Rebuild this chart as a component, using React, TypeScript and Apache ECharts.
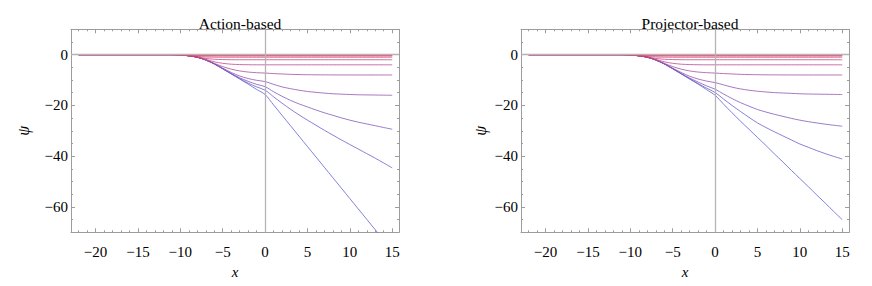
import React, { useEffect, useRef } from "react";
import * as echarts from "echarts";

// ---- data ----
// x positions: -22, then every unit from -11 to 15
const X = [-22, -11, -10, -9, -8, -7, -6, -5, -4, -3, -2, -1, 0,
  1, 2, 3, 4, 5, 6, 7, 8, 9, 10, 11, 12, 13, 14, 15];

// curves shared by both panels
const c1 = [0, 0, -0.07, -0.11, -0.125, -0.125, -0.125, -0.125, -0.125, -0.125, -0.125, -0.125, -0.125,
  -0.125, -0.125, -0.125, -0.125, -0.125, -0.125, -0.125, -0.125, -0.125, -0.125, -0.125, -0.125, -0.125, -0.125, -0.125];
const c2 = [0, 0, -0.09, -0.2, -0.24, -0.25, -0.25, -0.25, -0.25, -0.25, -0.25, -0.25, -0.25,
  -0.25, -0.25, -0.25, -0.25, -0.25, -0.25, -0.25, -0.25, -0.25, -0.25, -0.25, -0.25, -0.25, -0.25, -0.25];
const c3 = [0, 0, -0.1, -0.33, -0.45, -0.49, -0.5, -0.5, -0.5, -0.5, -0.5, -0.5, -0.5,
  -0.5, -0.5, -0.5, -0.5, -0.5, -0.5, -0.5, -0.5, -0.5, -0.5, -0.5, -0.5, -0.5, -0.5, -0.5];
const c4 = [0, 0, -0.1, -0.4, -0.75, -0.92, -0.98, -1, -1, -1, -1, -1, -1,
  -1, -1, -1, -1, -1, -1, -1, -1, -1, -1, -1, -1, -1, -1, -1];
const c5 = [0, 0, -0.1, -0.45, -0.95, -1.5, -1.8, -1.93, -1.98, -2, -2, -2, -2,
  -2, -2, -2, -2, -2, -2, -2, -2, -2, -2, -2, -2, -2, -2, -2];
const c6 = [0, 0, -0.1, -0.45, -1.0, -1.9, -2.8, -3.4, -3.75, -3.9, -3.97, -4, -4,
  -4, -4, -4, -4, -4, -4, -4, -4, -4, -4, -4, -4, -4, -4, -4];
const c7 = [0, 0, -0.1, -0.45, -1.0, -2.05, -3.4, -4.7, -5.7, -6.4, -6.85, -7.1, -7.25,
  -7.45, -7.6, -7.75, -7.85, -7.9, -7.94, -7.96, -7.98, -7.99, -8, -8, -8, -8, -8, -8];

// Action-based panel
const actionC8 = [0, 0, -0.1, -0.45, -1.0, -2.1, -3.6, -5.3, -7.0, -8.4, -9.4, -10.1, -10.6,
  -11.7, -12.7, -13.4, -14.0, -14.5, -14.85, -15.15, -15.4, -15.55, -15.7, -15.8, -15.85, -15.9, -15.95, -16];
const actionC9 = [0, 0, -0.1, -0.45, -1.0, -2.1, -3.6, -5.5, -7.4, -9.1, -10.5, -11.7, -12.6,
  -14.6, -16.4, -18.0, -19.4, -20.6, -21.8, -22.9, -23.9, -24.9, -25.8, -26.6, -27.3, -28.0, -28.7, -29.4];
const actionC10 = [0, 0, -0.1, -0.45, -1.0, -2.1, -3.6, -5.5, -7.5, -9.4, -11.2, -12.7, -14.0,
  -16.6, -19.1, -21.5, -23.7, -25.8, -27.8, -29.8, -31.7, -33.6, -35.4, -37.2, -39.0, -40.8, -42.7, -44.6];
const actionC11 = [0, 0, -0.1, -0.45, -1.0, -2.1, -3.7, -5.6, -7.6, -9.6, -11.6, -13.7, -15.7,
  -19.8, -23.9, -28.0, -32.1, -36.2, -40.3, -44.4, -48.5, -52.6, -56.7, -60.8, -64.9, -69.0, -73.1, -77.2];

// Projector-based panel
const projC8 = [0, 0, -0.1, -0.45, -1.0, -2.1, -3.6, -5.3, -7.0, -8.5, -9.6, -10.4, -11.0,
  -11.9, -12.8, -13.5, -14.0, -14.4, -14.7, -14.95, -15.1, -15.25, -15.4, -15.5, -15.55, -15.6, -15.65, -15.7];
const projC9 = [0, 0, -0.1, -0.45, -1.0, -2.1, -3.6, -5.5, -7.4, -9.2, -10.8, -12.3, -13.6,
  -15.5, -17.3, -18.9, -20.3, -21.6, -22.6, -23.5, -24.3, -25.1, -25.8, -26.4, -26.9, -27.4, -27.8, -28.2];
const projC10 = [0, 0, -0.1, -0.45, -1.0, -2.1, -3.6, -5.5, -7.5, -9.5, -11.4, -13.2, -14.9,
  -17.5, -20.0, -22.4, -24.7, -26.9, -28.7, -30.4, -32.0, -33.6, -35.2, -36.5, -37.8, -39.0, -40.1, -41.1];
const projC11 = [0, 0, -0.1, -0.45, -1.0, -2.1, -3.7, -5.6, -7.6, -9.6, -11.6, -13.8, -16.0,
  -19.5, -22.9, -26.2, -29.4, -32.6, -35.8, -39.1, -42.3, -45.6, -48.8, -52.0, -55.3, -58.5, -61.8, -65.0];

const actionCurves = [c1, c2, c3, c4, c5, c6, c7, actionC8, actionC9, actionC10, actionC11];
const projectorCurves = [c1, c2, c3, c4, c5, c6, c7, projC8, projC9, projC10, projC11];

const titles = ["Action-based", "Projector-based"];
const xMajor = [-20, -15, -10, -5, 0, 5, 10, 15];
const yMajor = [-60, -40, -20, 0];
const X_MIN = -22.9;
const X_MAX = 15.8;
const Y_MIN = -70;
const Y_MAX = 10;

// ---- styles ----
const COLORS = [
  "#ec3558", "#e6365f", "#df3866", "#d63c70", "#c9427e",
  "#b8488e", "#a54d9e", "#9152ad", "#7d57bb", "#6c5bc7", "#5e5fd1",
];
const FONT = "Liberation Serif";
const FRAME = "#9c9c9c";

const xMinor: number[] = [];
for (let v = -22; v <= 15; v++) if (v % 5 !== 0) xMinor.push(v);
const yMinor: number[] = [];
for (let v = -65; v <= 5; v += 5) if (v % 20 !== 0) yMinor.push(v);

const fmt = (v: number) => (v < 0 ? "\u2212" + Math.abs(v) : String(v));

const GRIDS = [
  { left: 71, width: 328, nameGap: 40 },
  { left: 521, width: 328, nameGap: 33 },
];

export default function App() {
  const ref = useRef<HTMLDivElement>(null);
  useEffect(() => {
    if (!ref.current) return;
    const chart = echarts.init(ref.current, undefined, { renderer: "svg" });

    const grid: any[] = [];
    const xAxis: any[] = [];
    const yAxis: any[] = [];
    const series: any[] = [];
    const title: any[] = [];

    GRIDS.forEach((g, gi) => {
      grid.push({ left: g.left, top: 29.3, width: g.width, height: 203, containLabel: false });
      title.push({
        text: titles[gi],
        left: g.left + g.width / 2,
        top: 10,
        textAlign: "center",
        textStyle: { fontFamily: FONT, fontSize: 15.5, fontWeight: "normal", color: "#000" },
      });
      const baseX = {
        type: "value", gridIndex: gi, min: X_MIN, max: X_MAX,
        splitLine: { show: false },
      };
      const baseY = {
        type: "value", gridIndex: gi, min: Y_MIN, max: Y_MAX,
        splitLine: { show: false },
      };
      const tickStyle = { color: FRAME, width: 1 };
      // bottom main
      xAxis.push({
        ...baseX, position: "bottom",
        axisLine: { show: true, onZero: false, lineStyle: { color: FRAME, width: 1 } },
        axisTick: { show: true, inside: true, length: 4, customValues: xMajor, lineStyle: tickStyle },
        axisLabel: { show: true, customValues: xMajor, formatter: fmt, margin: 12, fontFamily: FONT, fontSize: 15, color: "#000" },
        name: "x", nameLocation: "middle", nameGap: 28,
        nameTextStyle: { fontFamily: FONT, fontSize: 15, fontStyle: "italic", color: "#000" },
      });
      // bottom minor
      xAxis.push({
        ...baseX, position: "bottom",
        axisLine: { show: false, onZero: false },
        axisTick: { show: true, inside: true, length: 2, customValues: xMinor, lineStyle: tickStyle },
        axisLabel: { show: false },
      });
      // top main
      xAxis.push({
        ...baseX, position: "top",
        axisLine: { show: true, onZero: false, lineStyle: { color: FRAME, width: 1 } },
        axisTick: { show: true, inside: true, length: 4, customValues: xMajor, lineStyle: tickStyle },
        axisLabel: { show: false },
      });
      // top minor
      xAxis.push({
        ...baseX, position: "top",
        axisLine: { show: false, onZero: false },
        axisTick: { show: true, inside: true, length: 2, customValues: xMinor, lineStyle: tickStyle },
        axisLabel: { show: false },
      });
      // left main
      yAxis.push({
        ...baseY, position: "left",
        axisLine: { show: true, onZero: false, lineStyle: { color: FRAME, width: 1 } },
        axisTick: { show: true, inside: true, length: 4, customValues: yMajor, lineStyle: tickStyle },
        axisLabel: { show: true, customValues: yMajor, formatter: fmt, margin: 3, fontFamily: FONT, fontSize: 15, color: "#000" },
        name: "\u03C8", nameLocation: "middle", nameGap: g.nameGap, nameRotate: 90,
        nameTextStyle: { fontFamily: FONT, fontSize: 16, fontStyle: "italic", color: "#000" },
      });
      yAxis.push({
        ...baseY, position: "left",
        axisLine: { show: false, onZero: false },
        axisTick: { show: true, inside: true, length: 2, customValues: yMinor, lineStyle: tickStyle },
        axisLabel: { show: false },
      });
      yAxis.push({
        ...baseY, position: "right",
        axisLine: { show: true, onZero: false, lineStyle: { color: FRAME, width: 1 } },
        axisTick: { show: true, inside: true, length: 4, customValues: yMajor, lineStyle: tickStyle },
        axisLabel: { show: false },
      });
      yAxis.push({
        ...baseY, position: "right",
        axisLine: { show: false, onZero: false },
        axisTick: { show: true, inside: true, length: 2, customValues: yMinor, lineStyle: tickStyle },
        axisLabel: { show: false },
      });

      const xi = gi * 4;
      const yi = gi * 4;
      // axes through the origin
      series.push({
        type: "line", xAxisIndex: xi, yAxisIndex: yi, data: [], z: 1,
        markLine: {
          silent: true, symbol: ["none", "none"], label: { show: false },
          lineStyle: { color: "#b4b4b4", type: "solid", width: 1.3 },
          data: [{ xAxis: 0 }, { yAxis: 0 }],
          animation: false,
        },
      });
      const curves = gi === 0 ? actionCurves : projectorCurves;
      for (let k = curves.length - 1; k >= 0; k--) {
        series.push({
          type: "line", xAxisIndex: xi, yAxisIndex: yi, z: 2,
          data: X.map((x, i) => [x, curves[k][i]]),
          smooth: 0.3,
          symbol: "none", showSymbol: false,
          lineStyle: { color: COLORS[k], width: 1, opacity: 0.78 },
          clip: true,
        });
      }
    });

    chart.setOption({
      animation: false,
      backgroundColor: "#fff",
      textStyle: { fontFamily: FONT },
      title, grid, xAxis, yAxis, series,
    });
    return () => chart.dispose();
  }, []);

  return (
    <div
      ref={ref}
      style={{ position: "fixed", left: 0, top: 0, width: 872, height: 286, background: "#fff" }}
    />
  );
}
